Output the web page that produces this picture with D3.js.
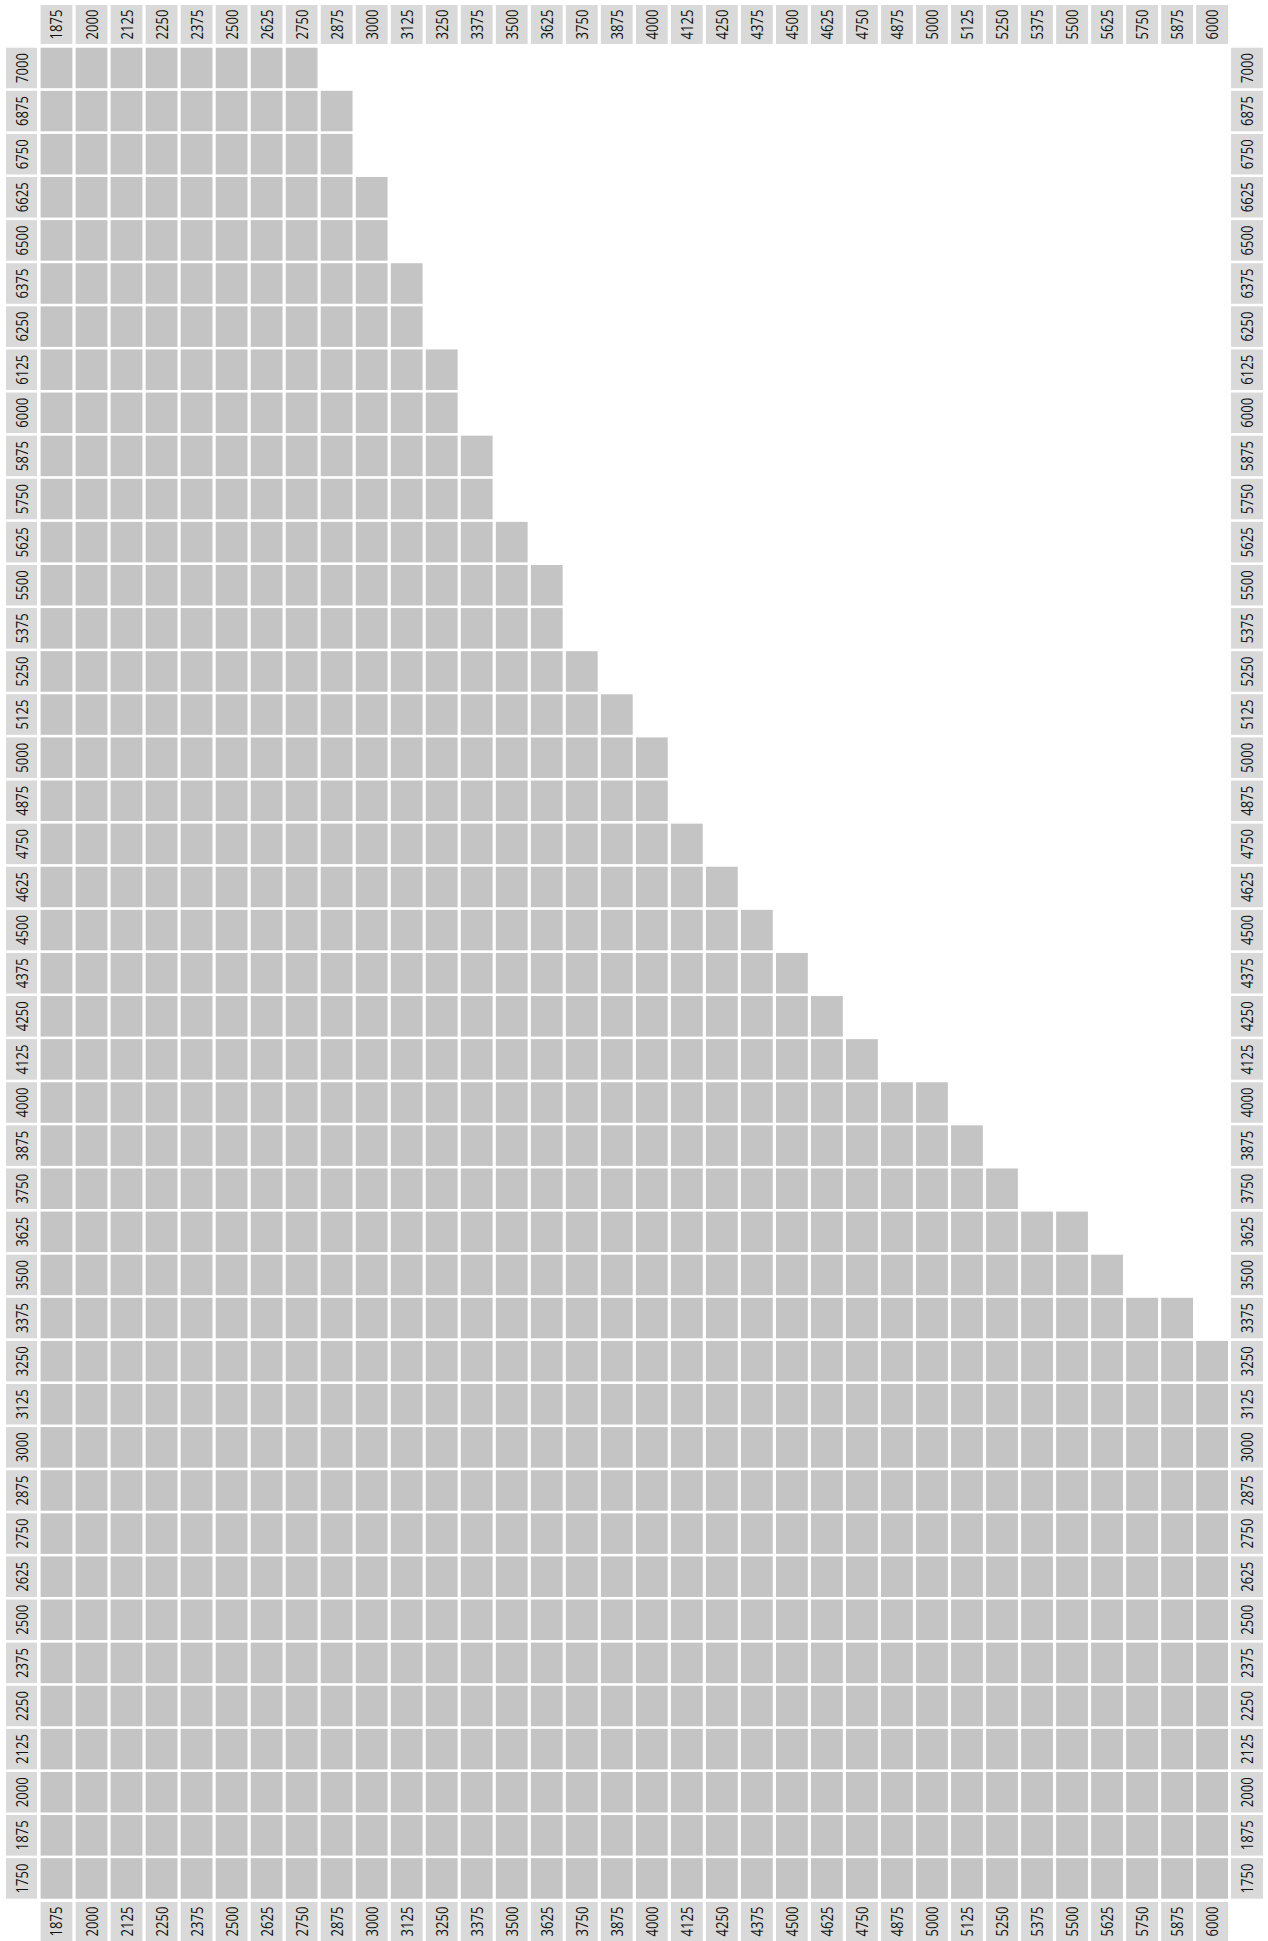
<!DOCTYPE html>
<html>
<head>
<meta charset="utf-8">
<script src="https://cdn.jsdelivr.net/npm/d3@7"></script>
<style>
  body { margin: 0; background: #fff; }
  text { font-family: "Open Sans", sans-serif; }
</style>
</head>
<body>
<div id="chart"></div>
<script>
// column categories (x) and row categories (y, top to bottom)
const columns = [1875, 2000, 2125, 2250, 2375, 2500, 2625, 2750, 2875, 3000, 3125, 3250,
  3375, 3500, 3625, 3750, 3875, 4000, 4125, 4250, 4375, 4500, 4625, 4750, 4875, 5000,
  5125, 5250, 5375, 5500, 5625, 5750, 5875, 6000];
const rows = [7000, 6875, 6750, 6625, 6500, 6375, 6250, 6125, 6000, 5875, 5750, 5625,
  5500, 5375, 5250, 5125, 5000, 4875, 4750, 4625, 4500, 4375, 4250, 4125, 4000, 3875,
  3750, 3625, 3500, 3375, 3250, 3125, 3000, 2875, 2750, 2625, 2500, 2375, 2250, 2125,
  2000, 1875, 1750];
// last filled column for each row (same order as rows)
const rowLast = [2750, 2875, 2875, 3000, 3000, 3125, 3125, 3250, 3250, 3375, 3375, 3500,
  3625, 3625, 3750, 3875, 4000, 4000, 4125, 4250, 4375, 4500, 4625, 4750, 5000, 5125,
  5250, 5500, 5625, 5875, 6000, 6000, 6000, 6000, 6000, 6000, 6000, 6000, 6000, 6000,
  6000, 6000, 6000];

const W = 1268, H = 1941;

const cells = [];
rows.forEach((r, i) => {
  columns.forEach(c => {
    if (c <= rowLast[i]) cells.push({ row: r, col: c });
  });
});

const svg = d3.select("#chart").append("svg")
  .attr("width", W)
  .attr("height", H);

const x = d3.scaleBand().domain(columns).range([40.6, 1228]).paddingInner(0.092);
const y = d3.scaleBand().domain(rows).range([47.7, 1898.7]).paddingInner(0.06);

// grid cells
svg.append("g").selectAll("rect")
  .data(cells)
  .enter()
  .append("rect")
  .attr("x", d => x(d.col))
  .attr("y", d => y(d.row))
  .attr("width", x.bandwidth())
  .attr("height", y.bandwidth())
  .attr("fill", "#c4c4c4");

const labelFill = "#d9d9d9";
const fontSize = "16px";

// labels are narrow in the original, squeeze them a bit
function label(sel) {
  sel.attr("text-anchor", "middle")
    .attr("dominant-baseline", "central")
    .attr("textLength", 30)
    .attr("lengthAdjust", "spacingAndGlyphs")
    .style("font-size", fontSize)
    .attr("fill", "#111")
    .text(d => d);
}

// column labels, top and bottom
[[5, 44], [1902, 1941]].forEach(([y0, y1]) => {
  const g = svg.append("g");
  g.selectAll("rect").data(columns).enter().append("rect")
    .attr("x", d => x(d)).attr("y", y0)
    .attr("width", x.bandwidth()).attr("height", y1 - y0)
    .attr("fill", labelFill);
  g.selectAll("text").data(columns).enter().append("text")
    .attr("transform", d => `translate(${x(d) + x.bandwidth() / 2}, ${(y0 + y1) / 2}) rotate(-90)`)
    .call(label);
});

// row labels, left and right
[[6, 37], [1231, 1263]].forEach(([x0, x1]) => {
  const g = svg.append("g");
  g.selectAll("rect").data(rows).enter().append("rect")
    .attr("x", x0).attr("y", d => y(d))
    .attr("width", x1 - x0).attr("height", y.bandwidth())
    .attr("fill", labelFill);
  g.selectAll("text").data(rows).enter().append("text")
    .attr("transform", d => `translate(${(x0 + x1) / 2}, ${y(d) + y.bandwidth() / 2}) rotate(-90)`)
    .call(label);
});
</script>
</body>
</html>
